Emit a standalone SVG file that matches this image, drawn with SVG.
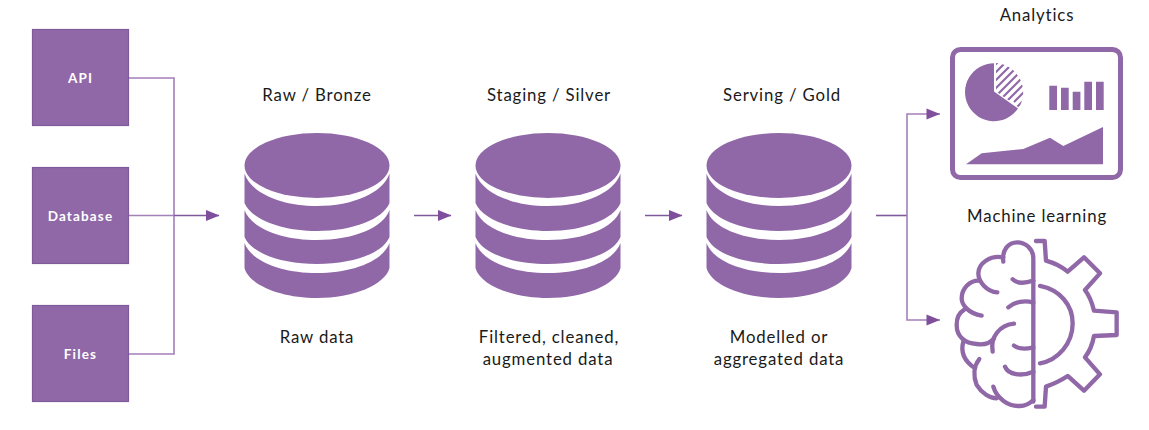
<svg xmlns="http://www.w3.org/2000/svg" width="1149" height="430" viewBox="0 0 1149 430">
<style>
text{font-family:"Lato","Open Sans",sans-serif;fill:#1a1a1a;font-size:16.8px;text-anchor:middle;letter-spacing:.85px}
.box rect{fill:#9068a8;stroke:#7f5a9b;stroke-width:1.2}
.box text{fill:#fff;font-weight:700;font-size:13.5px;letter-spacing:1.15px}
.lt{fill:none;stroke:#a47fb8;stroke-width:1.6}
.dk{fill:none;stroke:#7f5a9b;stroke-width:1.6}
.ico{fill:none;stroke:#9068a8;stroke-width:13;stroke-linecap:round;stroke-linejoin:round}
.sol{fill:#9068a8}
</style>
<defs>
<marker id="ah" markerUnits="userSpaceOnUse" markerWidth="14" markerHeight="12" refX="13" refY="5.500" orient="auto"><path d="M0,0L13.500,5.500L0,11Z" fill="#7f4f9d"/></marker>
<clipPath id="hc"><path d="M996,63A29.500,29.500 0 0 1 1019,107.500L996,91.500Z"/></clipPath>
<g id="cylshape">
<ellipse cx="0" cy="165.500" rx="72.500" ry="32.500"/>
<path d="M-72.500,173.500C-66,193 -36,206 0,206C36,206 66,193 72.500,173.500V203C66,219 36,231 0,231C-36,231 -66,219 -72.500,203Z"/>
<path d="M-72.500,210C-66,228 -36,240 0,240C36,240 66,228 72.500,210V237C66,253 36,264 0,264C-36,264 -66,253 -72.500,237Z"/>
<path d="M-72.500,243C-66,261 -36,273 0,273C36,273 66,261 72.500,243V268C68,285 36,298 0,298C-36,298 -68,285 -72.500,268Z"/>
</g>
</defs>

<g id="connectors">
<path class="lt" d="M129,78H174V354H129"/>
<path class="lt" d="M129,215.500H174"/>
<path class="dk" d="M174,215.500H219" marker-end="url(#ah)"/>
<path class="dk" d="M414,215.500H451" marker-end="url(#ah)"/>
<path class="dk" d="M645,215.500H682" marker-end="url(#ah)"/>
<path class="dk" d="M876,215.500H907"/>
<path class="lt" d="M940,114H907V320H940"/>
<path d="M926.500,108.500L940,114L926.500,119.500Z M926.500,314.500L940,320L926.500,325.500Z" fill="#7f4f9d"/>
</g>

<g id="api" class="box"><rect x="32.500" y="29.500" width="96" height="96"/><text x="80.500" y="83">API</text></g>
<g id="database" class="box"><rect x="32.500" y="167.500" width="96" height="96"/><text x="80.500" y="221">Database</text></g>
<g id="files" class="box"><rect x="32.500" y="305.500" width="96" height="96"/><text x="80.500" y="359">Files</text></g>

<g id="bronze">
<text x="317" y="101">Raw / Bronze</text>
<use href="#cylshape" x="317" fill="#9068a8"/>
<text x="317" y="343">Raw data</text>
</g>
<g id="silver">
<text x="549" y="101">Staging / Silver</text>
<use href="#cylshape" x="548" fill="#9068a8"/>
<text x="549" y="343">Filtered, cleaned,</text>
<text x="548" y="365">augmented data</text>
</g>
<g id="gold">
<text x="782" y="101">Serving / Gold</text>
<use href="#cylshape" x="779" fill="#9068a8"/>
<text x="779" y="343">Modelled or</text>
<text x="779" y="365">aggregated data</text>
</g>

<g id="analytics">
<text x="1037" y="21">Analytics</text>
<rect x="952.500" y="49.500" width="168" height="128" rx="8" fill="none" stroke="#9068a8" stroke-width="5"/>
<path class="sol" d="M994,63.200A29,29 0 1 0 1018,108.500L994,91.500Z"/>
<g clip-path="url(#hc)" stroke="#9068a8" stroke-width="2.200">
<path d="M985,75L1005,55M985,83L1015,53M985,91L1025,51M985,99L1030,54M990,102L1035,57M998,102L1040,60M1006,102L1040,68M1014,102L1040,76M1015,109L1040,84"/>
</g>
<path class="sol" d="M1049.300,85.700h7.700V110h-7.700ZM1061,87.700h7.700V110H1061ZM1072.700,91.700h7.700V110h-7.700ZM1084.300,81.700h7.700V110h-7.700ZM1096,81.700h7.700V110H1096Z"/>
<path class="sol" d="M966,164.300L981.700,153.300L1023.300,149L1050,137.700L1063.300,146L1103,127V164.300Z"/>
</g>

<g id="machine-learning">
<text x="1037" y="222">Machine learning</text>
<g transform="translate(940,230) scale(.3333)" class="ico">
<path d="M280,90V515"/>
<path d="M280,85C280,55 255,37 232,37C205,37 185,60 190,95"/>
<path d="M190,82C150,75 115,100 115,130C115,155 140,185 172,187"/>
<path d="M118,152C90,150 65,175 65,205C65,225 85,250 125,257"/>
<path d="M72,240C55,250 50,270 50,285C50,320 75,340 110,342C130,345 150,340 162,325"/>
<path d="M158,365C150,320 180,285 222,281"/>
<path d="M70,335C60,370 75,395 105,415"/>
<path d="M118,387C100,410 100,440 110,465C125,490 150,505 170,505"/>
<path d="M160,470C170,505 205,530 240,528C255,528 270,520 280,510"/>
<path d="M218,148C230,160 255,160 280,152"/>
<path d="M205,232C225,215 255,210 280,218"/>
<path d="M222,347C235,357 260,357 280,352"/>
<path d="M195,410C205,435 245,440 280,425"/>
<path d="M288,33L314,33L318,92C340,98 365,110 383,125L432,82L480,130L435,180C450,200 458,225 462,242L530,247L530,315L462,318C458,340 448,365 435,382L480,433L432,482L383,438C365,450 340,462 318,470L314,530L288,530"/>
<path d="M300,168C360,180 398,225 398,280C398,340 355,390 300,400"/>
</g>
</g>
</svg>
